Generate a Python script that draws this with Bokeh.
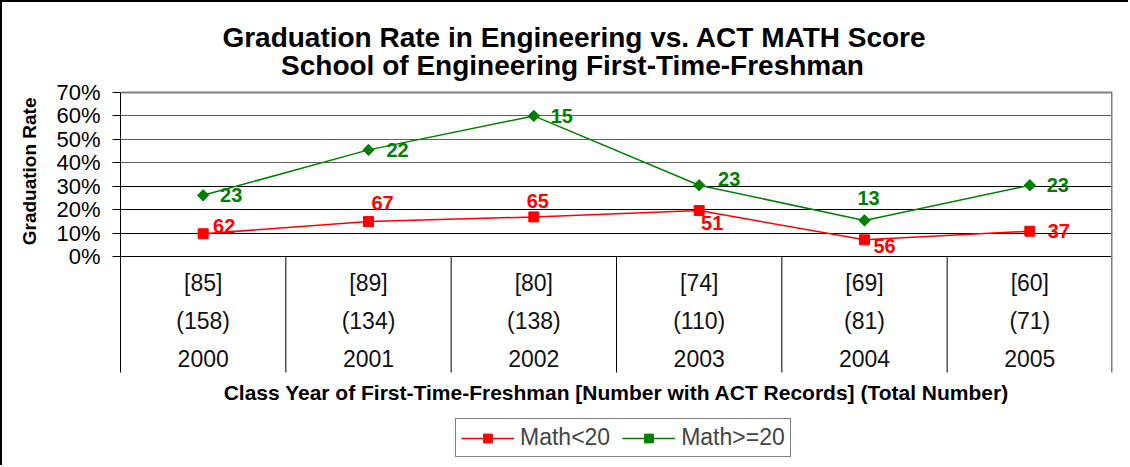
import math
from bokeh.plotting import figure
from bokeh.models import (Range1d, FixedTicker, PrintfTickFormatter, Grid, Label, Title,
                          Legend, LegendItem, ColumnDataSource)
from bokeh.core.properties import value
from bokeh.embed import file_html
from bokeh.resources import INLINE

# ---------------- data ----------------
years = ["2000", "2001", "2002", "2003", "2004", "2005"]
act_records = [85, 89, 80, 74, 69, 60]
total_number = [158, 134, 138, 110, 81, 71]
rate_math_lt20 = [9.7, 14.9, 16.9, 19.6, 7.1, 10.8]
rate_math_ge20 = [26.1, 45.5, 60.0, 30.4, 15.4, 30.4]
n_math_lt20 = [62, 67, 65, 51, 56, 37]
n_math_ge20 = [23, 22, 15, 23, 13, 23]
y_tick_values = [0, 10, 20, 30, 40, 50, 60, 70]
series_names = ["Math<20", "Math>=20"]
title_lines = ["Graduation Rate in Engineering vs. ACT MATH Score",
               "School of Engineering First-Time-Freshman"]
x_title = "Class Year of First-Time-Freshman [Number with ACT Records] (Total Number)"
y_title = "Graduation Rate"

# ---------------- style / layout ----------------
FONT = "Liberation Sans"
RED = "#FF0000"
GREEN = "#008000"
Y_TOP, Y_BOTTOM = 108.4, -90.05  # full frame (titles, table, legend inside)
TABLE_BOTTOM = -49.5
table_row_y = [-11.5, -27.5, -43.5]
red_label_dx = [21, 14, 4, 13, 20, 29]
red_label_dy = [-8, -19, -16, 12, 6, 0]
green_label_dx = [28, 29, 28, 30, 4, 28]
green_label_dy = [0, 0, 0, -6, -22, 0]

W, H = 1128, 465
p = figure(width=W, height=H, output_backend="svg", toolbar_location=None,
           x_range=Range1d(-0.5, len(years) - 0.5), y_range=Range1d(Y_BOTTOM, Y_TOP),
           x_axis_location=None, y_axis_location="left",
           min_border_left=118, min_border_right=18, min_border_top=0, min_border_bottom=0,
           background_fill_color="white", border_fill_color="white")
p.styles = {"border-top": "2px solid #000000", "border-left": "2px solid #000000"}
p.outline_line_color = None
p.xgrid.visible = False
p.ygrid.visible = False

# y axis
ax = p.yaxis[0]
ax.ticker = FixedTicker(ticks=y_tick_values)
ax.formatter = PrintfTickFormatter(format="%d%%")
ax.bounds = (TABLE_BOTTOM, y_tick_values[-1])
ax.major_tick_out = 8
ax.major_tick_in = 0
ax.minor_tick_line_color = None
ax.axis_line_color = "black"
ax.major_tick_line_color = "black"
ax.major_label_standoff = 12
ax.major_label_text_font = FONT
ax.major_label_text_font_size = "22px"
ax.major_label_text_color = "black"

# y axis title (left panel, outside the axis)
p.add_layout(Title(text=y_title, align="right", offset=95, standoff=28, text_font=FONT,
                   text_font_size="19px", text_font_style="bold", text_color="black"), "left")

# grid lines
p.add_layout(Grid(dimension=1, ticker=FixedTicker(ticks=[10, 20, 30]), grid_line_color="black"))
p.add_layout(Grid(dimension=1, ticker=FixedTicker(ticks=[40, 50, 60]), grid_line_color="#606060"))
p.add_layout(Grid(dimension=1, ticker=FixedTicker(ticks=[70]), grid_line_color="#808080", grid_line_width=2))
p.add_layout(Grid(dimension=1, ticker=FixedTicker(ticks=[0]), grid_line_color="black"))

idx = list(range(len(years)))

# category table dividers and right border
div_x = [i + 0.5 for i in idx[:-1]]
p.segment(x0=div_x, y0=[0] * len(div_x), x1=div_x, y1=[TABLE_BOTTOM] * len(div_x),
          line_color="black", line_width=1)
p.segment(x0=[idx[-1] + 0.5], y0=[TABLE_BOTTOM], x1=[idx[-1] + 0.5], y1=[y_tick_values[-1]],
          line_color="#808080", line_width=3)

# table text
rows = [[f"[{v}]" for v in act_records], [f"({v})" for v in total_number], years]
for ry, texts in zip(table_row_y, rows):
    p.text(x=idx, y=[ry] * len(idx), text=texts, text_align="center", text_baseline="middle",
           text_font=value(FONT), text_font_size="23px", text_color="#111111")

# series
src_r = ColumnDataSource(dict(x=idx, y=rate_math_lt20, n=[str(v) for v in n_math_lt20],
                              dx=red_label_dx, dy=red_label_dy))
src_g = ColumnDataSource(dict(x=idx, y=rate_math_ge20, n=[str(v) for v in n_math_ge20],
                              dx=green_label_dx, dy=green_label_dy))
lr = p.line("x", "y", source=src_r, line_color=RED, line_width=1.5)
sr = p.scatter("x", "y", source=src_r, marker="square", size=10, fill_color=RED, line_color=RED)
lg = p.line("x", "y", source=src_g, line_color=GREEN, line_width=1.5)
sg = p.scatter("x", "y", source=src_g, marker="square", angle=math.pi / 4, size=8,
               fill_color=GREEN, line_color=GREEN)

p.text("x", "y", text="n", source=src_r, x_offset="dx", y_offset="dy", text_align="center",
       text_baseline="middle", text_font=value(FONT), text_font_size="20px",
       text_font_style="bold", text_color=RED)
p.text("x", "y", text="n", source=src_g, x_offset="dx", y_offset="dy", text_align="center",
       text_baseline="middle", text_font=value(FONT), text_font_size="20px",
       text_font_style="bold", text_color=GREEN)

# titles and x title (frame-relative screen units; inside the frame)
p.add_layout(Label(x=454, y=430, x_units="screen", y_units="screen", text=title_lines[0],
                   text_align="center", text_baseline="middle", text_font=FONT,
                   text_font_size="28px", text_font_style="bold", text_color="black"))
p.add_layout(Label(x=452, y=402, x_units="screen", y_units="screen", text=title_lines[1],
                   text_align="center", text_baseline="middle", text_font=FONT,
                   text_font_size="28px", text_font_style="bold", text_color="black"))
p.add_layout(Label(x=496, y=75, x_units="screen", y_units="screen", text=x_title,
                   text_align="center", text_baseline="middle", text_font=FONT,
                   text_font_size="21px", text_font_style="bold", text_color="black"))

legend = Legend(items=[LegendItem(label=series_names[0], renderers=[lr, sr]),
                       LegendItem(label=series_names[1], renderers=[lg, sg])],
                orientation="horizontal", location=(335, 10))
legend.border_line_color = "black"
legend.border_line_width = 1
legend.label_text_font = FONT
legend.label_text_font_size = "23px"
legend.glyph_width = 53
legend.glyph_height = 22
legend.label_height = 21
legend.padding = 5
legend.spacing = 12
legend.label_standoff = 6
legend.background_fill_alpha = 1
p.add_layout(legend)

open("out.html", "w").write(file_html(p, INLINE))
